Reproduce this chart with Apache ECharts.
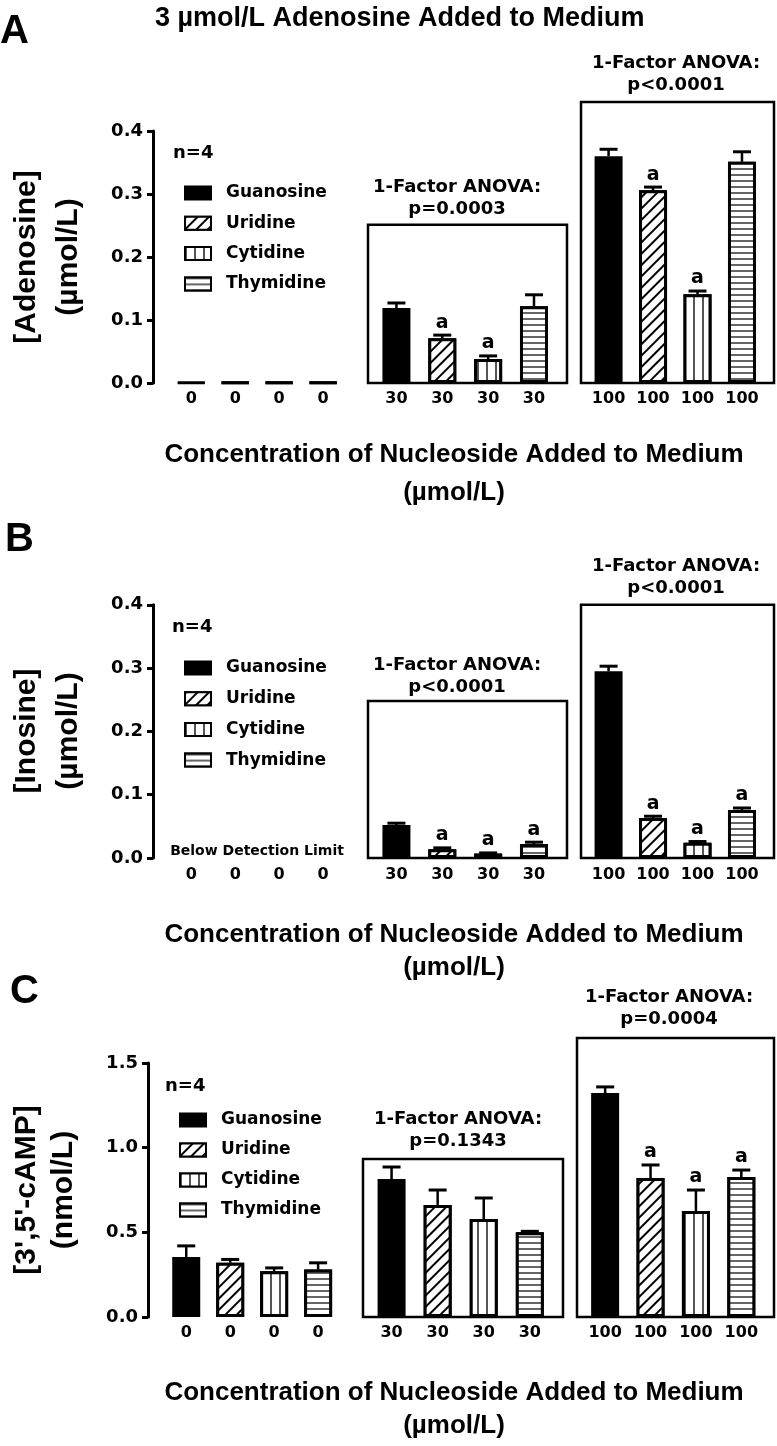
<!DOCTYPE html>
<html><head><meta charset="utf-8">
<script src="https://cdn.jsdelivr.net/npm/echarts@6/dist/echarts.min.js"></script>
<style>html,body{margin:0;padding:0;background:#fff}#c{width:777px;height:1446px}</style>
</head><body><div id="c"></div>
<script>
// ---------------- DATA ----------------
const nucleosides = ['Guanosine', 'Uridine', 'Cytidine', 'Thymidine'];
const doseLabels = ['0', '30', '100'];

// Panel A: [Adenosine] (µmol/L)
const adoMean0   = [0.001, 0.001, 0.001, 0.001];
const adoSem0    = [0, 0, 0, 0];
const adoMean30  = [0.119, 0.071, 0.038, 0.122];
const adoSem30   = [0.008, 0.005, 0.005, 0.018];
const adoMean100 = [0.360, 0.306, 0.141, 0.351];
const adoSem100  = [0.011, 0.005, 0.005, 0.016];
const adoSig30   = [0, 1, 1, 0];
const adoSig100  = [0, 1, 1, 0];

// Panel B: [Inosine] (µmol/L) – 0 group below detection limit
const inoMean0   = [null, null, null, null];
const inoSem0    = [0, 0, 0, 0];
const inoMean30  = [0.052, 0.014, 0.007, 0.022];
const inoSem30   = [0.003, 0.002, 0.001, 0.003];
const inoMean100 = [0.295, 0.063, 0.024, 0.076];
const inoSem100  = [0.008, 0.003, 0.002, 0.003];
const inoSig30   = [0, 1, 1, 1];
const inoSig100  = [0, 1, 1, 1];

// Panel C: [3',5'-cAMP] (nmol/L)
const campMean0   = [0.354, 0.320, 0.270, 0.280];
const campSem0    = [0.066, 0.020, 0.020, 0.040];
const campMean30  = [0.815, 0.662, 0.579, 0.500];
const campSem30   = [0.071, 0.088, 0.124, 0.006];
const campMean100 = [1.323, 0.821, 0.626, 0.827];
const campSem100  = [0.036, 0.077, 0.124, 0.041];
const campSig30   = [0, 0, 0, 0];
const campSig100  = [0, 1, 1, 1];

const anovaP = ['p=0.0003', 'p<0.0001', 'p<0.0001', 'p<0.0001', 'p=0.1343', 'p=0.0004'];

// ---------------- LAYOUT ----------------
const DJ = '"DejaVu Sans", sans-serif';
const LS = '"Liberation Sans", Arial, sans-serif';

const panels = [
  { base: 383, scale: 630, axisX: 153, yMax: 0.4, yStep: 0.1, box30: [368, 567], box100: [581, 774],
    top30: 0.251, top100: 0.446, labMargin: 8,
    means: [adoMean0, adoMean30, adoMean100], sems: [adoSem0, adoSem30, adoSem100], sig: [[0,0,0,0], adoSig30, adoSig100],
    legLeft: 184, legTop: 184, legGap: 12.3 },
  { base: 858, scale: 633, axisX: 153, yMax: 0.4, yStep: 0.1, box30: [368, 567], box100: [581, 774],
    top30: 0.248, top100: 0.40, labMargin: 9,
    means: [inoMean0, inoMean30, inoMean100], sems: [inoSem0, inoSem30, inoSem100], sig: [[0,0,0,0], inoSig30, inoSig100],
    legLeft: 184, legTop: 659, legGap: 12.7 },
  { base: 1317, scale: 169.3, axisX: 148, yMax: 1.5, yStep: 0.5, box30: [363, 563], box100: [577, 774],
    top30: 0.933, top100: 1.648, labMargin: 8,
    means: [campMean0, campMean30, campMean100], sems: [campSem0, campSem30, campSem100], sig: [[0,0,0,0], campSig30, campSig100],
    legLeft: 179, legTop: 1111, legGap: 12 }
];

const styles = [
  { color: '#000', borderColor: '#000', borderWidth: 3 },
  { color: '#fff', borderColor: '#000', borderWidth: 3,
    decal: { symbol: 'rect', symbolSize: 1, color: '#000', backgroundColor: '#fff', dashArrayX: [1, 0], dashArrayY: [2, 6], rotation: -Math.PI / 4 } },
  { color: '#fff', borderColor: '#000', borderWidth: 3,
    decal: { symbol: 'rect', symbolSize: 1, color: '#555', backgroundColor: '#fff', dashArrayX: [1.2, 6.5], dashArrayY: [1, 0], rotation: 0 } },
  { color: '#fff', borderColor: '#000', borderWidth: 3,
    decal: { symbol: 'rect', symbolSize: 1, color: '#666', backgroundColor: '#fff', dashArrayX: [1, 0], dashArrayY: [1.2, 4], rotation: 0 } }
];

function renderErr(params, api) {
  const x = api.value(0), m = api.value(1), t = api.value(2), s = api.value(3);
  const p0 = api.coord([x, m]);
  const p1 = api.coord([x, t]);
  const ch = [];
  if (t > m) {
    ch.push({ type: 'line', shape: { x1: p0[0], y1: p0[1], x2: p0[0], y2: p1[1] }, style: { stroke: '#000', lineWidth: 2.5 } });
    ch.push({ type: 'line', shape: { x1: p0[0] - 9, y1: p1[1], x2: p0[0] + 9, y2: p1[1] }, style: { stroke: '#000', lineWidth: 3 } });
  }
  if (s) {
    ch.push({ type: 'text', style: { text: 'a', x: p0[0], y: p1[1] - 3, align: 'center', verticalAlign: 'bottom',
      font: 'bold 19px ' + DJ, fill: '#000' } });
  }
  return { type: 'group', children: ch };
}

const grids = [], xAxes = [], yAxes = [], series = [], legends = [];
panels.forEach((P, pi) => {
  const groups = [
    { left: P.axisX, right: P.axisX + 200, top: P.yMax, min: -0.87, max: 3.68, box: false },
    { left: P.box30[0], right: P.box30[1], top: P.top30, min: -0.62, max: 3.72, box: true },
    { left: P.box100[0], right: P.box100[1], top: P.top100, min: -0.62, max: 3.72, box: true }
  ];
  groups.forEach((G, gi) => {
    const h = G.top * P.scale;
    const idx = grids.length;
    grids.push({ left: G.left, width: G.right - G.left, top: P.base - h, height: h, show: G.box,
      borderColor: '#000', borderWidth: 2.5, backgroundColor: 'transparent', containLabel: false, outerBoundsMode: 'none' });
    const dose = doseLabels[gi];
    xAxes.push({ gridIndex: idx, type: 'value', min: G.min, max: G.max,
      axisLine: { show: false, onZero: false }, axisTick: { show: false }, splitLine: { show: false },
      axisLabel: { customValues: [0, 1, 2, 3], formatter: () => dose, color: '#000', fontFamily: DJ, fontWeight: 'bold', fontSize: 16, margin: P.labMargin } });
    if (gi === 0) {
      yAxes.push({ gridIndex: idx, type: 'value', min: 0, max: P.yMax, interval: P.yStep, position: 'left',
        axisLine: { show: true, onZero: false, lineStyle: { color: '#000', width: 3 } },
        axisTick: { show: true, length: 6, lineStyle: { color: '#000', width: 3 } },
        splitLine: { show: false },
        axisLabel: { formatter: v => v.toFixed(1), color: '#000', fontFamily: DJ, fontWeight: 'bold', fontSize: 18, margin: 10 } });
    } else {
      yAxes.push({ gridIndex: idx, type: 'value', min: 0, max: G.top, show: false, splitLine: { show: false } });
    }
    const means = P.means[gi], sems = P.sems[gi], sig = P.sig[gi];
    nucleosides.forEach((name, k) => {
      series.push({ type: 'bar', name, xAxisIndex: idx, yAxisIndex: idx, barWidth: 28, barGap: '-100%',
        data: means[k] == null ? [] : [[k, means[k]]], itemStyle: styles[k], z: 2 });
    });
    series.push({ type: 'custom', xAxisIndex: idx, yAxisIndex: idx, renderItem: renderErr, clip: false, silent: true, z: 3,
      data: means.map((m, k) => m == null ? null : [k, m, m + sems[k], sig[k]]).filter(d => d) });
  });
  legends.push({ orient: 'vertical', left: P.legLeft, top: P.legTop, itemWidth: 26, itemHeight: 13, itemGap: P.legGap,
    data: nucleosides, icon: 'rect', selectedMode: false, padding: 0,
    textStyle: { fontFamily: DJ, fontWeight: 'bold', fontSize: 17, color: '#000', lineHeight: 18, padding: [0, 0, 0, 10] } });
});

function txt(text, x, y, font, opts) {
  return Object.assign({ type: 'text', x, y, silent: true,
    style: { text, font, fill: '#000', align: 'center', verticalAlign: 'middle' } }, opts || {});
}
const F_TITLE = 'bold 27px ' + LS;
const F_LET = 'bold 40px ' + LS;
const F_AX = 'bold 26px ' + LS;
const F_YN = 'bold 30px ' + LS;
const F_AN = 'bold 18px ' + DJ;
const F_N = 'bold 18px ' + DJ;

const graphics = [];
graphics.push({ type: 'text', x: 155, y: 19, silent: true, style: { text: '3 µmol/L Adenosine Added to Medium', font: F_TITLE, fill: '#000', align: 'left', verticalAlign: 'middle' } });
[['A', 0, 32], ['B', 5, 540], ['C', 10, 992]].forEach(([t, x, y]) => {
  graphics.push({ type: 'text', x, y, silent: true, style: { text: t, font: F_LET, fill: '#000', align: 'left', verticalAlign: 'middle' } });
});
// n=4
[[173, 153], [172, 627], [165, 1086]].forEach(([x, y]) => {
  graphics.push({ type: 'text', x, y, silent: true, style: { text: 'n=4', font: F_N, fill: '#000', align: 'left', verticalAlign: 'middle' } });
});
// ANOVA labels
const anPos = [[457, 187], [676, 63], [457, 665], [676, 566], [458, 1119], [669, 997]];
anPos.forEach(([x, y], i) => {
  graphics.push(txt('1-Factor ANOVA:', x, y, F_AN));
  graphics.push(txt(anovaP[i], x, y + 22, F_AN));
});
// x axis titles
[[455, 493], [935, 968], [1393, 1426]].forEach(([y1, y2]) => {
  graphics.push(txt('Concentration of Nucleoside Added to Medium', 454, y1, F_AX));
  graphics.push(txt('(µmol/L)', 454, y2, F_AX));
});
// y axis names
[['[Adenosine]', '(µmol/L)', 257, 69], ['[Inosine]', '(µmol/L)', 731, 69], ["[3',5'-cAMP]", '(nmol/L)', 1190, 64]].forEach(([a, b, y, x2]) => {
  graphics.push(txt(a, 27, y, F_YN, { rotation: Math.PI / 2 }));
  graphics.push(txt(b, x2, y, F_YN, { rotation: Math.PI / 2 }));
});
graphics.push(txt('Below Detection Limit', 257, 851, 'bold 14px ' + DJ));

const chart = echarts.init(document.getElementById('c'), null, { renderer: 'canvas' });
chart.setOption({
  animation: false,
  backgroundColor: '#fff',
  grid: grids, xAxis: xAxes, yAxis: yAxes, series, legend: legends,
  graphic: graphics
});
</script>
</body></html>
